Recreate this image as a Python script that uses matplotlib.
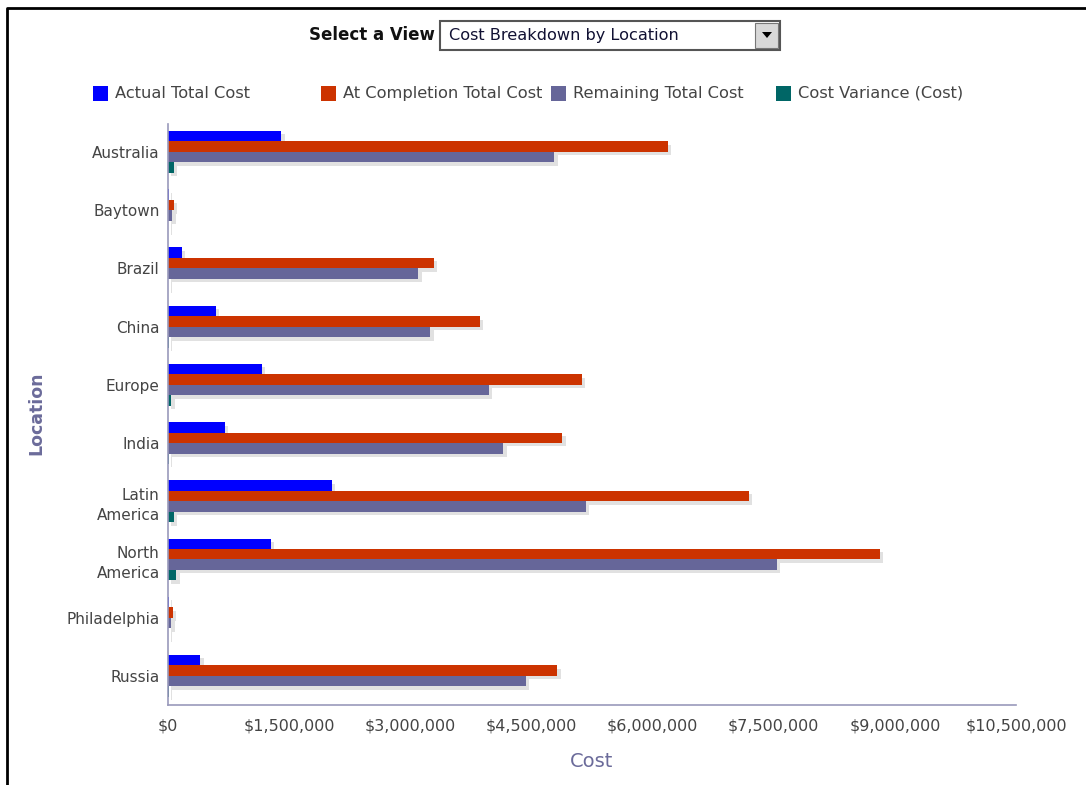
import numpy as np
import matplotlib
matplotlib.use("Agg")
import matplotlib.pyplot as plt
from matplotlib.patches import Rectangle, Polygon
from matplotlib.lines import Line2D
from matplotlib import patheffects as pe
from matplotlib.ticker import FuncFormatter, MultipleLocator

locations = ["Australia", "Baytown", "Brazil", "China", "Europe", "India",
             "Latin\nAmerica", "North\nAmerica", "Philadelphia", "Russia"]
series_names = ["Actual Total Cost", "At Completion Total Cost",
                "Remaining Total Cost", "Cost Variance (Cost)"]
actual = [1400000, 10000, 170000, 590000, 1160000, 700000, 2030000, 1270000, 10000, 400000]
at_completion = [6190000, 70000, 3290000, 3860000, 5120000, 4880000, 7190000, 8810000, 60000, 4820000]
remaining = [4780000, 50000, 3100000, 3250000, 3970000, 4150000, 5170000, 7540000, 40000, 4430000]
variance = [70000, 5000, 5000, 10000, 40000, 10000, 70000, 100000, 5000, 10000]

colors = ["#0000ff", "#cc3300", "#666699", "#006666"]
label_col = "#444444"
title_col = "#6b6b9a"

plt.rcParams['font.family'] = ['DejaVu Sans']

W, H = 1086, 785
fig = plt.figure(figsize=(W / 100, H / 100), dpi=100)

def fx(px):
    return px / W

def fy(py):
    return 1 - py / H

# outer frame (top and left edges only)
fig.lines.append(Line2D([fx(7), fx(7), fx(1086)], [fy(785), fy(8), fy(8)],
                        transform=fig.transFigure, color="black", lw=2))

# "Select a View" dropdown
fig.text(fx(435), fy(35), "Select a View", ha="right", va="center",
         fontsize=12, fontweight="bold", color="#111111")
fig.patches.append(Rectangle((fx(440), fy(50)), fx(780) - fx(440), fy(21) - fy(50),
                             transform=fig.transFigure, fc="white", ec="#555555", lw=1.5))
fig.text(fx(449), fy(35.5), "Cost Breakdown by Location", ha="left", va="center",
         fontsize=11.6, color="#111133")
fig.patches.append(Rectangle((fx(755), fy(48)), fx(778) - fx(755), fy(23) - fy(48),
                             transform=fig.transFigure, fc="#d8d8d8", ec="#777777", lw=0.8))
fig.patches.append(Polygon([(fx(762), fy(32)), (fx(772), fy(32)), (fx(767), fy(38))],
                           closed=True, transform=fig.transFigure, fc="black", ec="none"))

# legend
leg_x = [93, 321, 551, 776]
for name, col, x in zip(series_names, colors, leg_x):
    fig.patches.append(Rectangle((fx(x), fy(101)), fx(15), fy(86) - fy(101),
                                 transform=fig.transFigure, fc=col, ec="none"))
    fig.text(fx(x + 22), fy(93.5), name, ha="left", va="center",
             fontsize=11.7, color="#444444")

# chart
ax = fig.add_axes([fx(168), fy(705), fx(1016) - fx(168), fy(124) - fy(705)])
y = np.arange(len(locations))
h = 0.18
offsets = [-1.5 * h, -0.5 * h, 0.5 * h, 1.5 * h]
shadow = [pe.SimplePatchShadow(offset=(2.5, -2.5), shadow_rgbFace="#aaaaaa", alpha=0.35), pe.Normal()]
for vals, col, off in zip([actual, at_completion, remaining, variance], colors, offsets):
    bars = ax.barh(y + off, vals, height=h, color=col, edgecolor="none")
    for b in bars:
        b.set_path_effects(shadow)

ax.set_ylim(9.5, -0.48)
ax.set_xlim(0, 10500000)
ax.xaxis.set_major_locator(MultipleLocator(1500000))
ax.xaxis.set_major_formatter(FuncFormatter(lambda v, p: "${:,.0f}".format(v)))
ax.set_yticks(y)
ax.set_yticklabels(locations, linespacing=1.4)
for s in ["top", "right"]:
    ax.spines[s].set_visible(False)
for s in ["left", "bottom"]:
    ax.spines[s].set_color("#9999bb")
    ax.spines[s].set_linewidth(1.2)
ax.tick_params(axis="both", length=0, labelsize=11.5, labelcolor=label_col)
ax.tick_params(axis="y", labelsize=11, pad=6)
ax.tick_params(axis="x", pad=10)

ax.set_xlabel("Cost", fontsize=14, color=title_col, labelpad=13)
fig.text(fx(36), fy(413), "Location", rotation=90, ha="center", va="center",
         fontsize=12.5, fontweight="bold", color=title_col)

fig.savefig("out.png", dpi=100)
